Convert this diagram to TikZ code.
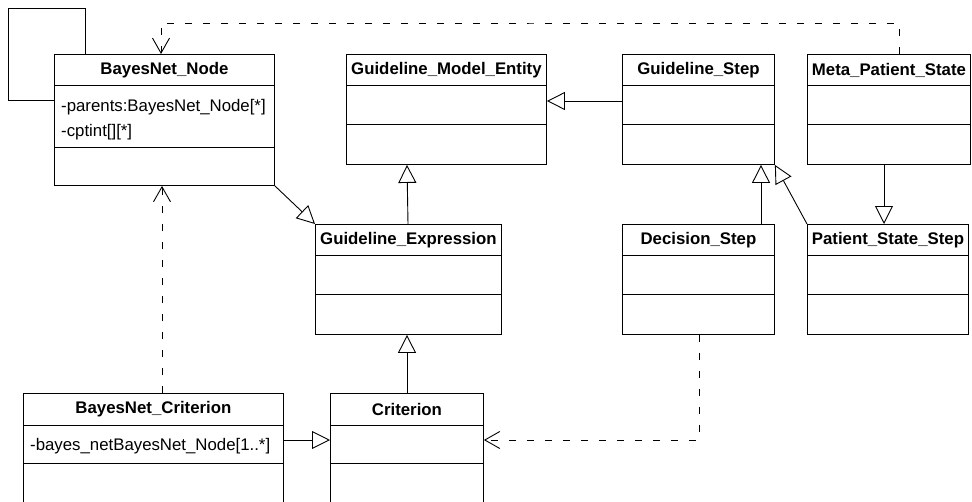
\documentclass[tikz,border=0pt]{standalone}
\usepackage{fontspec}
\setmainfont{Liberation Sans}
\usetikzlibrary{arrows.meta}
\begin{document}
\begin{tikzpicture}[x=1pt,y=-1pt] % классы и связи модели
\tikzstyle{cls} = [draw, rectangle, line width=0.9pt, anchor=north west, inner sep=0pt] % class box style
\tikzstyle{ttl} = [font=\bfseries\fontsize{16.8}{19}\selectfont, inner sep=0pt] % class name
\tikzstyle{attr} = [font=\fontsize{16.8}{25}\selectfont, anchor=west, align=left, inner sep=0pt] % attributes
\tikzstyle{gen} = [line width=0.9pt, -{Triangle[open,length=18pt,width=18pt]}] % generalization
\tikzstyle{dep} = [line width=0.9pt, dash pattern=on 7pt off 11pt, -{Straight Barb[length=15pt,width=17pt]}] % dependency
\clip (0,0) rectangle (972,501);
\fill[white] (0,0) rectangle (972,501);
% классы
\node[cls, minimum width=220pt, minimum height=131pt] (bnode) at (54,54) {};
\node[cls, minimum width=200pt, minimum height=110pt] (gme) at (346,54) {};
\node[cls, minimum width=152pt, minimum height=110pt] (gstep) at (622,54) {};
\node[cls, minimum width=163pt, minimum height=110pt] (meta) at (807,54) {};
\node[cls, minimum width=186pt, minimum height=110pt] (gexpr) at (315,224) {};
\node[cls, minimum width=152pt, minimum height=110pt] (dstep) at (622,224) {};
\node[cls, minimum width=161pt, minimum height=110pt] (pss) at (807,224) {};
\node[cls, minimum width=260pt, minimum height=130pt] (bcrit) at (23,393) {};
\node[cls, minimum width=153pt, minimum height=130pt] (crit) at (330,393) {};
% имена классов
\node[ttl] (bnodet) at ([yshift=-16pt]bnode.north) {BayesNet\_Node};
\node[ttl] (gmet) at ([yshift=-16pt]gme.north) {Guideline\_Model\_Entity};
\node[ttl] (gstept) at ([yshift=-16pt]gstep.north) {Guideline\_Step};
\node[ttl] (metat) at ([yshift=-16pt]meta.north) {Meta\_Patient\_State};
\node[ttl] (gexprt) at ([yshift=-16pt]gexpr.north) {Guideline\_Expression};
\node[ttl] (dstept) at ([yshift=-16pt]dstep.north) {Decision\_Step};
\node[ttl] (psst) at ([yshift=-16pt]pss.north) {Patient\_State\_Step};
\node[ttl] (bcritt) at ([yshift=-16pt]bcrit.north) {BayesNet\_Criterion};
\node[ttl] (critt) at ([yshift=-16pt]crit.north) {Criterion};
% атрибуты
\node[attr] (bnodea) at ([xshift=7pt,yshift=-66pt]bnode.north west) {-parents:BayesNet\_Node[*]\\-cptint[][*]};
\node[attr] (bcrita) at ([xshift=7pt,yshift=-53pt]bcrit.north west) {-bayes\_netBayesNet\_Node[1..*]};
% разделители
\draw[line width=0.9pt] ([yshift=-31pt]bnode.north west) -- ([yshift=-31pt]bnode.north east);
\draw[line width=0.9pt] ([yshift=-93pt]bnode.north west) -- ([yshift=-93pt]bnode.north east);
\draw[line width=0.9pt] ([yshift=-31pt]gme.north west) -- ([yshift=-31pt]gme.north east);
\draw[line width=0.9pt] ([yshift=-70pt]gme.north west) -- ([yshift=-70pt]gme.north east);
\draw[line width=0.9pt] ([yshift=-31pt]gstep.north west) -- ([yshift=-31pt]gstep.north east);
\draw[line width=0.9pt] ([yshift=-70pt]gstep.north west) -- ([yshift=-70pt]gstep.north east);
\draw[line width=0.9pt] ([yshift=-31pt]meta.north west) -- ([yshift=-31pt]meta.north east);
\draw[line width=0.9pt] ([yshift=-70pt]meta.north west) -- ([yshift=-70pt]meta.north east);
\draw[line width=0.9pt] ([yshift=-31pt]gexpr.north west) -- ([yshift=-31pt]gexpr.north east);
\draw[line width=0.9pt] ([yshift=-70pt]gexpr.north west) -- ([yshift=-70pt]gexpr.north east);
\draw[line width=0.9pt] ([yshift=-31pt]dstep.north west) -- ([yshift=-31pt]dstep.north east);
\draw[line width=0.9pt] ([yshift=-70pt]dstep.north west) -- ([yshift=-70pt]dstep.north east);
\draw[line width=0.9pt] ([yshift=-31pt]pss.north west) -- ([yshift=-31pt]pss.north east);
\draw[line width=0.9pt] ([yshift=-70pt]pss.north west) -- ([yshift=-70pt]pss.north east);
\draw[line width=0.9pt] ([yshift=-32pt]bcrit.north west) -- ([yshift=-32pt]bcrit.north east);
\draw[line width=0.9pt] ([yshift=-70pt]bcrit.north west) -- ([yshift=-70pt]bcrit.north east);
\draw[line width=0.9pt] ([yshift=-32pt]crit.north west) -- ([yshift=-32pt]crit.north east);
\draw[line width=0.9pt] ([yshift=-70pt]crit.north west) -- ([yshift=-70pt]crit.north east);
% связи
\coordinate (loopc) at (8,8);
\coordinate (topc) at (530,23);
\draw[line width=0.9pt] ([xshift=31pt]bnode.north west) |- (loopc) |- ([yshift=-46pt]bnode.north west);
\draw[dep] ([xshift=92pt]meta.north west) |- (topc) -| ([xshift=107pt]bnode.north west);
\draw[gen] ([yshift=-47pt]gstep.north west) -- ([yshift=-47pt]gme.north east);
\draw[gen] ([xshift=93pt]gexpr.north west) -- ([xshift=61pt]gme.south west);
\draw[gen] ([xshift=77pt]crit.north west) -- ([xshift=92pt]gexpr.south west);
\draw[gen] ([xshift=139pt]dstep.north west) -- ([xshift=139pt]gstep.south west);
\draw[gen] (pss.north west) -- (gstep.south east);
\draw[gen] ([xshift=77pt]meta.south west) -- ([xshift=77pt]pss.north west);
\draw[gen] (bnode.south east) -- (gexpr.north west);
\draw[gen] ([yshift=-47pt]bcrit.north east) -- ([yshift=-47pt]crit.north west);
\draw[dep] ([xshift=139pt]bcrit.north west) -- ([xshift=108pt]bnode.south west);
\draw[dep] ([xshift=77pt]dstep.south west) |- ([yshift=-47pt]crit.north east);
\end{tikzpicture}
\end{document}
